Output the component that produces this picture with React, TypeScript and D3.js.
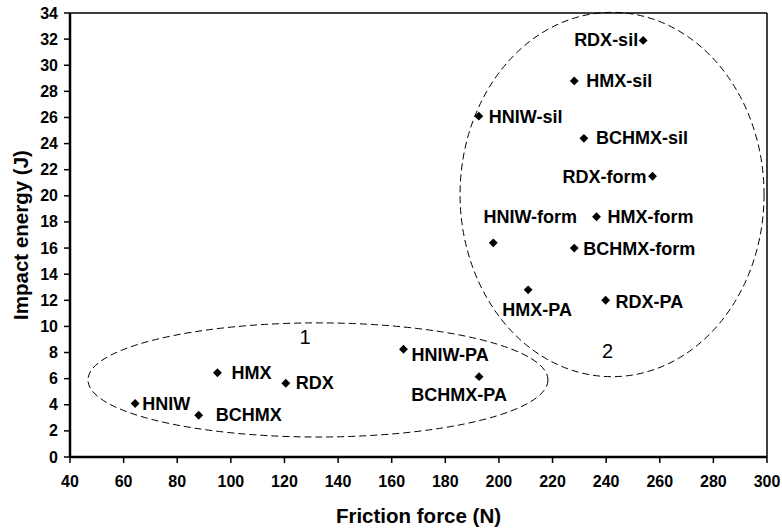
import React from "react";
import * as d3 from "d3";

const names = [
  "HNIW", "HMX", "RDX", "BCHMX", "HNIW-PA", "BCHMX-PA",
  "HMX-PA", "RDX-PA", "BCHMX-form", "HNIW-form", "HMX-form", "RDX-form",
  "BCHMX-sil", "HNIW-sil", "HMX-sil", "RDX-sil",
];
const friction = [64.3, 95, 120.5, 88, 164.4, 192.6, 210.9, 239.8, 228.1, 197.9, 236.4, 257.3, 231.7, 192.5, 228.1, 253.8];
const impact = [4.1, 6.45, 5.65, 3.2, 8.25, 6.15, 12.8, 12.0, 16.0, 16.4, 18.4, 21.5, 24.4, 26.1, 28.8, 31.9];

// label offsets (px) relative to marker: [dx, dy, anchor]
const labelOffsets: [number, number, string][] = [
  [7, 1, "start"], [14, 0, "start"], [10, 0, "start"], [17, 0, "start"],
  [8, 6, "start"], [-20, 18, "middle"], [9, 20, "middle"], [10, 2, "start"],
  [9, 1, "start"], [37, -26, "middle"], [11, 0, "start"], [-6, 1, "end"],
  [12, 0, "start"], [10, 1, "start"], [12, 0, "start"], [-5, 0, "end"],
];

const xTicks = d3.range(40, 301, 20);
const yTicks = d3.range(0, 35, 2);

// group ellipses in data units
const groups = [
  { cx: 132.5, cy: 5.9, rx: 85.8, ry: 4.37, label: "1", lx: 127.7, ly: 9.2 },
  { cx: 242.2, cy: 20.1, rx: 56.7, ry: 13.95, label: "2", lx: 240.5, ly: 8.1 },
];

const W = 782, H = 530;
const x = d3.scaleLinear().domain([40, 300]).range([70, 767]);
const y = d3.scaleLinear().domain([0, 34]).range([457, 13]);
const font = "Liberation Sans, Arial, Helvetica, sans-serif";

export default function App() {
  const diamond = d3.symbol().type(d3.symbolDiamond2).size(50)();
  return (
    <svg width={W} height={H} style={{ position: "absolute", left: 0, top: 0, background: "#fff" }} fontFamily={font}>
      {/* frame */}
      <line x1={x(40)} x2={x(300)} y1={y(34)} y2={y(34)} stroke="#000" strokeWidth={1.5} />
      <line x1={x(300)} x2={x(300)} y1={y(0)} y2={y(34)} stroke="#000" strokeWidth={1.5} />
      {/* ellipses */}
      {groups.map((g, i) => (
        <g key={i}>
          <ellipse
            cx={x(g.cx)} cy={y(g.cy)}
            rx={x(g.cx + g.rx) - x(g.cx)} ry={y(g.cy) - y(g.cy + g.ry)}
            fill="none" stroke="#000" strokeWidth={1} strokeDasharray="7,4"
          />
          <text x={x(g.lx)} y={y(g.ly)} textAnchor="middle" dominantBaseline="central" fontSize={20}>{g.label}</text>
        </g>
      ))}
      {/* axes */}
      <line x1={x(40)} x2={x(300)} y1={y(0)} y2={y(0)} stroke="#000" strokeWidth={2.5} />
      <line x1={x(40)} x2={x(40)} y1={y(0)} y2={y(34)} stroke="#000" strokeWidth={2.5} />
      {xTicks.map((t) => (
        <g key={"x" + t}>
          <line x1={x(t)} x2={x(t)} y1={y(0)} y2={y(0) + 6} stroke="#000" strokeWidth={1.5} />
          <text x={x(t)} y={y(0) + 30} textAnchor="middle" fontSize={16} fontWeight="bold">{t}</text>
        </g>
      ))}
      {yTicks.map((t) => (
        <g key={"y" + t}>
          <line x1={x(40) - 6} x2={x(40)} y1={y(t)} y2={y(t)} stroke="#000" strokeWidth={1.5} />
          <text x={x(40) - 12} y={y(t)} textAnchor="end" dominantBaseline="central" fontSize={16} fontWeight="bold">{t}</text>
        </g>
      ))}
      <text x={(x(40) + x(300)) / 2} y={523} textAnchor="middle" fontSize={20.5} fontWeight="bold">Friction force (N)</text>
      <text transform={`translate(28,${(y(0) + y(34)) / 2}) rotate(-90)`} textAnchor="middle" fontSize={20.5} fontWeight="bold">Impact energy (J)</text>
      {/* points */}
      {names.map((n, i) => {
        const px = x(friction[i]);
        const py = y(impact[i]);
        const [dx, dy, anchor] = labelOffsets[i];
        return (
          <g key={n}>
            <path d={diamond} transform={`translate(${px},${py})`} fill="#000" />
            <text x={px + dx} y={py + dy} textAnchor={anchor as any} dominantBaseline="central" fontSize={18} fontWeight="bold">{n}</text>
          </g>
        );
      })}
    </svg>
  );
}
